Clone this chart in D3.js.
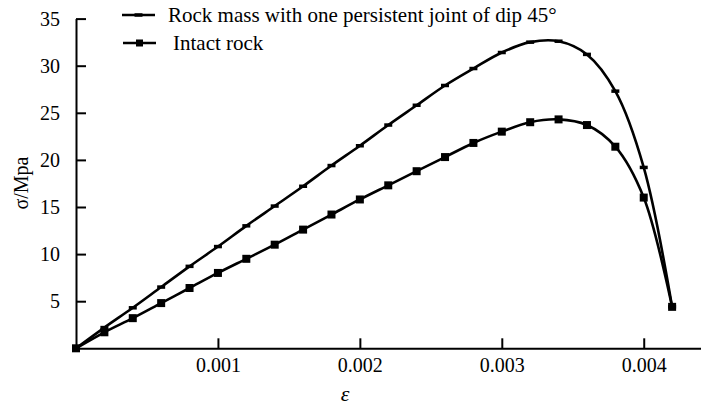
<!DOCTYPE html>
<html>
<head>
<meta charset="utf-8">
<script src="https://cdn.jsdelivr.net/npm/d3@7"></script>
<style>
  body { margin: 0; background: #fff; }
  svg text { font-family: "Liberation Serif", "Times New Roman", Times, serif !important; fill: #000; }
</style>
</head>
<body>
<svg id="chart" width="705" height="406"></svg>
<script>
const width = 705;
const height = 406;

// strain values (every 0.0002)
const strain = [0, 0.0002, 0.0004, 0.0006, 0.0008, 0.001, 0.0012, 0.0014, 0.0016, 0.0018, 0.002,
  0.0022, 0.0024, 0.0026, 0.0028, 0.003, 0.0032, 0.0034, 0.0036, 0.0038, 0.004, 0.0042];
const rockMass = [0, 2.2, 4.3, 6.5, 8.7, 10.8, 13.0, 15.1, 17.2, 19.4, 21.5,
  23.7, 25.8, 27.9, 29.7, 31.4, 32.5, 32.6, 31.2, 27.3, 19.2, 4.4];
const intact = [0, 1.7, 3.2, 4.8, 6.4, 8.0, 9.5, 11.0, 12.6, 14.2, 15.8,
  17.3, 18.8, 20.3, 21.8, 23.0, 24.0, 24.3, 23.7, 21.4, 16.0, 4.4];
const xTicks = [0.001, 0.002, 0.003, 0.004];
const yTicks = [5, 10, 15, 20, 25, 30, 35];
const seriesNames = ["Rock mass with one persistent joint of dip 45°", "Intact rock"];

const x = d3.scaleLinear().domain([0, 0.0044]).range([76, 700.5]);
const y = d3.scaleLinear().domain([0, 35]).range([348.3, 18.6]);

const svg = d3.select("#chart");

// axes
const xAxis = svg.append("g")
  .attr("transform", `translate(0,${y(0)})`)
  .call(d3.axisBottom(x).tickValues(xTicks).tickFormat(d3.format(".3f"))
    .tickSizeInner(-10).tickSizeOuter(0).tickPadding(10));
const yAxis = svg.append("g")
  .attr("transform", `translate(${x(0)},0)`)
  .call(d3.axisLeft(y).tickValues(yTicks).tickFormat(d3.format("d"))
    .tickSizeInner(-10).tickSizeOuter(0).tickPadding(16));

[xAxis, yAxis].forEach((a) => {
  a.attr("font-family", null).attr("font-size", null);
  a.select(".domain").attr("stroke", "#000").attr("stroke-width", 2);
  a.selectAll(".tick line").attr("stroke", "#000").attr("stroke-width", 2);
  a.selectAll(".tick text").style("font-size", "20px");
});

// axis titles
svg.append("text")
  .attr("x", 345).attr("y", 401)
  .attr("text-anchor", "middle")
  .style("font-size", "22px").style("font-style", "italic")
  .text("ε");

svg.append("text")
  .attr("transform", "translate(28,183) rotate(-90)")
  .attr("text-anchor", "middle")
  .style("font-size", "20px")
  .text("σ/Mpa");

// lines
const line = d3.line()
  .x((d) => x(d[0]))
  .y((d) => y(d[1]))
  .curve(d3.curveCatmullRom.alpha(0.5));

const rockData = strain.map((s, i) => [s, rockMass[i]]);
const intactData = strain.map((s, i) => [s, intact[i]]);

[rockData, intactData].forEach((d) => {
  svg.append("path")
    .datum(d)
    .attr("fill", "none")
    .attr("stroke", "#000")
    .attr("stroke-width", 2.6)
    .attr("stroke-linejoin", "round")
    .attr("d", line);
});

// markers
svg.append("g").selectAll("line")
  .data(rockData)
  .join("line")
  .attr("x1", (d) => x(d[0]) - 4)
  .attr("x2", (d) => x(d[0]) + 4)
  .attr("y1", (d) => y(d[1]))
  .attr("y2", (d) => y(d[1]))
  .attr("stroke", "#000")
  .attr("stroke-width", 3.5);

svg.append("g").selectAll("rect")
  .data(intactData)
  .join("rect")
  .attr("x", (d) => x(d[0]) - 4)
  .attr("y", (d) => y(d[1]) - 4)
  .attr("width", 8)
  .attr("height", 8)
  .attr("fill", "#000");

// legend
const legend = svg.append("g");
const legendY = [15, 43];
const legendX = [[122, 155, 168], [123, 156, 173]];
seriesNames.forEach((name, i) => {
  const [x0, x1, tx] = legendX[i];
  legend.append("line")
    .attr("x1", x0).attr("x2", x1)
    .attr("y1", legendY[i]).attr("y2", legendY[i])
    .attr("stroke", "#000").attr("stroke-width", 2.6);
  if (i === 0) {
    legend.append("line")
      .attr("x1", (x0 + x1) / 2 - 4).attr("x2", (x0 + x1) / 2 + 4)
      .attr("y1", legendY[i]).attr("y2", legendY[i])
      .attr("stroke", "#000").attr("stroke-width", 3.5);
  } else {
    legend.append("rect")
      .attr("x", (x0 + x1) / 2 - 3.5).attr("y", legendY[i] - 3.5)
      .attr("width", 7).attr("height", 7)
      .attr("fill", "#000");
  }
  legend.append("text")
    .attr("x", tx).attr("y", legendY[i] + 7)
    .style("font-size", "21px")
    .text(name);
});
</script>
</body>
</html>
